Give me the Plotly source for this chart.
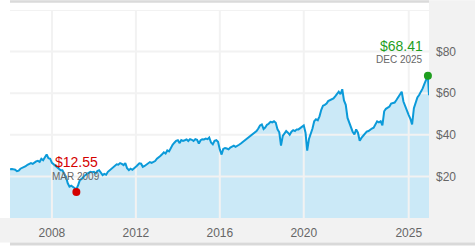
import plotly.graph_objects as go
import pandas as pd

# ---- data (monthly closes) ----
start_month = "2006-01-01"
values = [
    23.4, 23.6, 23.4, 23.2, 22.5, 22.8, 23.7, 24.0, 24.6, 24.9, 25.6, 26.0,   # 2006
    26.4, 26.0, 26.8, 27.2, 27.5, 27.0, 28.5, 27.8, 29.2, 30.5, 28.8, 28.5,   # 2007
    26.5, 25.8, 25.0, 24.2, 23.7, 23.0, 23.0, 21.5, 19.8, 16.8, 15.1, 15.5,   # 2008
    14.8, 14.0, 13.8, 15.8, 18.2, 18.8, 19.8, 20.6, 21.2, 21.6, 22.2, 22.0,   # 2009
    22.2, 21.4, 22.6, 23.0, 21.5, 20.6, 21.2, 20.8, 22.2, 23.0, 23.4, 24.2,   # 2010
    25.3, 25.8, 25.6, 26.4, 26.0, 25.4, 26.4, 23.9, 23.0, 23.7, 23.2, 23.7,   # 2011
    24.6, 25.5, 26.3, 26.1, 24.6, 25.0, 25.6, 26.2, 26.9, 26.5, 26.8, 27.4,   # 2012
    28.5, 29.0, 29.8, 30.6, 31.6, 31.0, 32.5, 32.0, 34.0, 35.2, 36.2, 37.1,   # 2013
    37.4, 36.0, 37.5, 37.1, 37.4, 37.8, 37.0, 37.9, 37.6, 37.0, 37.9, 37.6,   # 2014
    35.8, 37.4, 37.9, 37.8, 38.2, 37.9, 38.7, 36.3, 35.4, 37.1, 37.4, 36.6,   # 2015
    33.0, 30.5, 33.2, 33.6, 33.4, 33.0, 33.9, 34.3, 34.8, 34.2, 34.6, 35.2,   # 2016
    35.8, 36.5, 37.1, 37.6, 38.2, 39.0, 39.5, 40.2, 41.0, 41.8, 43.0, 44.5,   # 2017
    45.0, 42.8, 43.5, 44.8, 45.3, 46.2, 46.0, 46.5, 45.8, 42.6, 41.2, 34.8,   # 2018
    39.5, 41.0, 41.8, 41.0, 40.0, 41.5, 42.2, 41.8, 42.6, 42.6, 43.2, 44.2,   # 2019
    44.5, 41.0, 32.4, 38.0, 40.2, 43.0, 46.5, 47.5, 47.0, 48.9, 52.0, 54.0,   # 2020
    54.4, 55.0, 56.2, 56.7, 57.0, 57.5, 58.5, 59.5, 60.7, 59.5, 61.9, 56.5,   # 2021
    54.4, 48.1, 46.0, 43.4, 41.5, 40.2, 42.6, 41.0, 37.1, 38.5, 39.5, 40.0,   # 2022
    41.5, 41.8, 42.5, 43.0, 43.4, 45.0, 46.5, 46.0, 46.5, 44.5, 51.3, 52.5,   # 2023
    53.0, 53.6, 55.0, 55.2, 55.5, 56.7, 58.0, 59.0, 60.7, 56.0, 53.5, 51.3,   # 2024
    49.5, 47.5, 45.0, 52.8, 55.5, 58.0, 59.1, 60.5, 62.3, 64.5, 66.2, 68.41,  # 2025
]
last_date = "2025-12-20"
last_value = 59.0

low_date, low_value, low_label = "2009-03-01", 12.55, "MAR 2009"
high_date, high_value, high_label = "2025-12-01", 68.41, "DEC 2025"

x_range = ["2006-01-01", "2025-12-20"]
y_range = [0, 100]
x_tickvals = ["2008-01-01", "2012-01-01", "2016-01-01", "2020-01-01", "2025-01-01"]
x_ticktext = ["2008", "2012", "2016", "2020", "2025"]
y_tickvals = [20, 40, 60, 80, 100]
y_ticktext = ["$20", "$40", "$60", "$80", ""]

dates = list(pd.date_range(start_month, periods=len(values), freq="MS").strftime("%Y-%m-%d"))
dates.append(last_date)
vals = values + [last_value]

LINE = "#0b9ad9"
FILL = "#cbe9f7"
GRID = "#f2f2f2"
RED = "#d40000"
GREEN = "#1f9e1f"
FONT = "Liberation Sans, Arial, sans-serif"

fig = go.Figure()

# filled area (no line)
fig.add_trace(go.Scatter(x=dates, y=vals, mode="lines", line=dict(width=0, color=FILL),
                         fill="tozeroy", fillcolor=FILL, hoverinfo="skip", showlegend=False))

# grid lines drawn over the fill but under the price line
gx, gy = [], []
for t in x_tickvals:
    gx += [t, t, None]
    gy += [y_range[0], y_range[1], None]
for v in y_tickvals:
    gx += [x_range[0], x_range[1], None]
    gy += [v, v, None]
fig.add_trace(go.Scatter(x=gx, y=gy, mode="lines", line=dict(color=GRID, width=2),
                         hoverinfo="skip", showlegend=False, cliponaxis=False))

# price line
fig.add_trace(go.Scatter(x=dates, y=vals, mode="lines", line=dict(color=LINE, width=2),
                         showlegend=False))

# markers
fig.add_trace(go.Scatter(x=[low_date], y=[low_value], mode="markers",
                         marker=dict(color=RED, size=8), showlegend=False, cliponaxis=False))
fig.add_trace(go.Scatter(x=[high_date], y=[high_value], mode="markers",
                         marker=dict(color=GREEN, size=8), showlegend=False, cliponaxis=False))

fig.add_annotation(x=low_date, y=low_value, text=f"${low_value:.2f}", showarrow=False,
                   xanchor="center", yanchor="middle", yshift=30,
                   font=dict(family=FONT, size=14, color=RED))
fig.add_annotation(x=low_date, y=low_value, text=low_label, showarrow=False,
                   xanchor="center", yanchor="middle", yshift=15,
                   font=dict(family=FONT, size=10, color="#666666"))
fig.add_annotation(x=high_date, y=high_value, text=f"${high_value:.2f}", showarrow=False,
                   xanchor="right", yanchor="middle", yshift=30, xshift=-3,
                   font=dict(family=FONT, size=14, color=GREEN))
fig.add_annotation(x=high_date, y=high_value, text=high_label, showarrow=False,
                   xanchor="right", yanchor="middle", yshift=16, xshift=-3,
                   font=dict(family=FONT, size=10, color="#666666"))

W, H = 475, 250
ML, MR, MT, MB = 10, 46, 10, 28
pw, ph = W - ML - MR, H - MT - MB

def px(xp):
    return (xp - ML) / pw

def py(yp):
    return (H - MB - yp) / ph

shapes = [
    # bottom gray band
    dict(type="rect", xref="paper", yref="paper", x0=px(0), x1=px(W), y0=py(247), y1=py(222),
         fillcolor="#f2f2f2", line=dict(width=0), layer="below"),
    # right gray column
    dict(type="rect", xref="paper", yref="paper", x0=px(429), x1=px(W), y0=py(247), y1=py(0),
         fillcolor="#f2f2f2", line=dict(width=0), layer="below"),
    # bottom darker border
    dict(type="rect", xref="paper", yref="paper", x0=px(10), x1=px(W), y0=py(250), y1=py(247),
         fillcolor="#d9d9d9", line=dict(width=0), layer="below"),
    # top darker bar
    dict(type="rect", xref="paper", yref="paper", x0=px(10), x1=px(429), y0=py(2.5), y1=py(0),
         fillcolor="#dadada", line=dict(width=0), layer="below"),
]

fig.update_layout(
    width=W, height=H,
    margin=dict(l=ML, r=MR, t=MT, b=MB, pad=0),
    paper_bgcolor="white", plot_bgcolor="white",
    shapes=shapes,
    font=dict(family=FONT, size=12, color="#666666"),
    xaxis=dict(type="date", range=x_range, tickvals=x_tickvals, ticktext=x_ticktext,
               showgrid=False, zeroline=False, showline=False, ticks="",
               tickfont=dict(size=12, color="#666666"), ticklabelstandoff=6, fixedrange=True),
    yaxis=dict(range=y_range, tickvals=y_tickvals, ticktext=y_ticktext, side="right",
               showgrid=False, zeroline=False, showline=False, ticks="",
               tickfont=dict(size=12, color="#666666"), ticklabelstandoff=6, fixedrange=True),
    showlegend=False,
)

fig.write_html("out.html")
